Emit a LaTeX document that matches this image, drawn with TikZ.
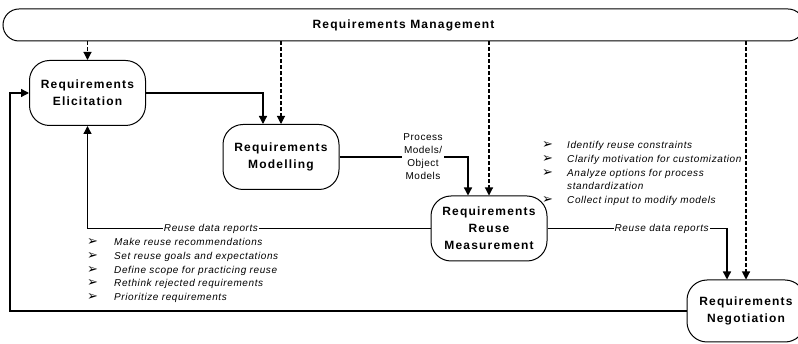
\documentclass[tikz,border=0pt]{standalone}
\usepackage{fontspec}
\setmainfont{Liberation Sans}
\newfontfamily\lsfont[LetterSpace=10]{Liberation Sans}
\newfontfamily\itfont[LetterSpace=6]{Liberation Sans}
\newfontfamily\pfont[LetterSpace=5]{Liberation Sans}
\newfontfamily\dejavu{DejaVu Sans}
\usetikzlibrary{arrows.meta}
\newcommand{\boxfnt}{\lsfont\bfseries\fontsize{12}{17}\selectfont}
\newcommand{\lblfnt}{\itfont\itshape\fontsize{10}{13.7}\selectfont}
\newcommand{\procfnt}{\pfont\fontsize{10}{13}\selectfont}
\newcommand{\bul}{{\dejavu\fontsize{13}{10}\selectfont ➢}}
\tikzset{
  box/.style={draw, line width=1pt, rounded corners=20pt, minimum width=116pt,
    minimum height=65pt, inner sep=0pt, align=center, font=\boxfnt},
  conn/.style={line width=1.3pt, -{Triangle[length=8pt,width=8pt]}},
  dconn/.style={line width=1.1pt, dash pattern=on 4pt off 2pt, -{Triangle[length=8pt,width=8pt]}},
  lbl/.style={fill=white, inner sep=1pt, font=\lblfnt},
  plbl/.style={fill=white, inner sep=1pt, align=center, font=\procfnt},
  blist/.style={inner sep=0pt, anchor=north west, align=left, font=\lblfnt}
}
\begin{document}
\begin{tikzpicture}[x=1pt, y=-1pt]
\useasboundingbox[fill=white] (0,0) rectangle (798,344);
\clip (0,0) rectangle (798,344);
\node[draw, line width=1pt, rounded corners=16pt, minimum width=801pt, minimum height=32pt,
  inner sep=0pt, font=\boxfnt] (mgmt) at (403.5,25) {Requirements Management};
\node[box] (elic) at (87.5,93) {Requirements\\Elicitation};
\node[box] (model) at (281,157) {Requirements\\Modelling};
\node[box] (meas) at (489,228.5) {Requirements\\Reuse\\Measurement};
\node[box, minimum width=118pt, minimum height=62pt] (neg) at (746,311) {Requirements\\Negotiation};
\coordinate (fb) at (10,93);
% management dashed arrows
\draw[dconn] (mgmt.south -| elic.north) -- (elic.north);
\draw[dconn] (mgmt.south -| model.north) -- (model.north);
\draw[dconn] (mgmt.south -| meas.north) -- (meas.north);
\draw[dconn] (mgmt.south -| neg.north) -- (neg.north);
% flow
\draw[conn] (elic.east) -| ([xshift=-18pt]model.north);
\draw[conn] (model.east) -| ([xshift=-21pt]meas.north)
  node[plbl, pos=0.325] (plab) {Process\\Models/\\Object\\Models};
\draw[conn] (meas.west) -| (elic.south)
  node[lbl, pos=0.32] (rl) {Reuse data reports};
\draw[conn] (meas.east) -| ([xshift=-19pt]neg.north)
  node[lbl, pos=0.318] (rr) {Reuse data reports};
\draw[conn] (neg.west) -| (fb) -- (elic.west);
% lists
\node[blist] (llist) at (87,236) {\begin{tabular}{@{}p{27pt}@{}l@{}}
\bul & Make reuse recommendations\\
\bul & Set reuse goals and expectations\\
\bul & Define scope for practicing reuse\\
\bul & Rethink rejected requirements\\
\bul & Prioritize requirements
\end{tabular}};
\node[blist] (rlist) at (542,139) {\begin{tabular}{@{}p{25pt}@{}l@{}}
\bul & Identify reuse constraints\\
\bul & Clarify motivation for customization\\
\bul & Analyze options for process\\
 & standardization\\
\bul & Collect input to modify models
\end{tabular}};
\end{tikzpicture}
\end{document}
